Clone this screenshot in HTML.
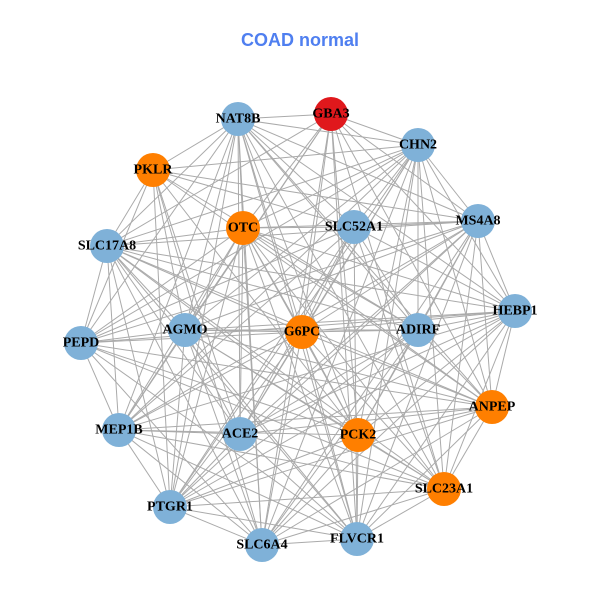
<!DOCTYPE html>
<html><head><meta charset="utf-8"><style>
html,body{margin:0;padding:0;background:#fff;width:600px;height:600px;overflow:hidden}
svg{display:block}
.t{font-family:"Liberation Serif",serif;font-weight:bold;font-size:14px;fill:#000;text-anchor:middle;dominant-baseline:central}
</style></head><body>
<svg id="s" width="600" height="600" viewBox="0 0 600 600">
<text x="300" y="40" text-anchor="middle" dominant-baseline="central" font-family="Liberation Sans,sans-serif" font-weight="bold" font-size="18" fill="#4f7ff0">COAD normal</text>
<g id="e" stroke="#aaaaaa" stroke-width="1"></g>
<g id="n"></g>
<g id="l"></g>
</svg>
<script>
var N=[["GBA3",331,114,"#e0181c"],["NAT8B",238,119,"#7fb1d8"],["CHN2",418,145,"#7fb1d8"],["PKLR",153,170,"#ff7f00"],["MS4A8",478,221,"#7fb1d8"],["OTC",243,228,"#ff7f00"],["SLC52A1",354,227,"#7fb1d8"],["SLC17A8",107,246,"#7fb1d8"],["HEBP1",515,311,"#7fb1d8"],["PEPD",81,343,"#7fb1d8"],["AGMO",185,330,"#7fb1d8"],["G6PC",302,332,"#ff7f00"],["ADIRF",418,330,"#7fb1d8"],["ANPEP",492,407,"#ff7f00"],["MEP1B",119,430,"#7fb1d8"],["ACE2",240,434,"#7fb1d8"],["PCK2",358,435,"#ff7f00"],["SLC23A1",444,489,"#ff7f00"],["PTGR1",170,507,"#7fb1d8"],["SLC6A4",262,545,"#7fb1d8"],["FLVCR1",357,539,"#7fb1d8"]];
var ns="http://www.w3.org/2000/svg",E=document.getElementById("e"),G=document.getElementById("n"),L=document.getElementById("l");
for(var i=0;i<N.length;i++)for(var j=i+1;j<N.length;j++){if((i*7+j*3)%9==0)continue;var ln=document.createElementNS(ns,"line");ln.setAttribute("x1",N[i][1]);ln.setAttribute("y1",N[i][2]);ln.setAttribute("x2",N[j][1]);ln.setAttribute("y2",N[j][2]);E.appendChild(ln);}
N.forEach(function(d){var c=document.createElementNS(ns,"circle");c.setAttribute("cx",d[1]);c.setAttribute("cy",d[2]);c.setAttribute("r",17);c.setAttribute("fill",d[3]);G.appendChild(c);var t=document.createElementNS(ns,"text");t.setAttribute("x",d[1]);t.setAttribute("y",d[2]);t.setAttribute("class","t");t.textContent=d[0];L.appendChild(t);});
</script>
</body></html>
